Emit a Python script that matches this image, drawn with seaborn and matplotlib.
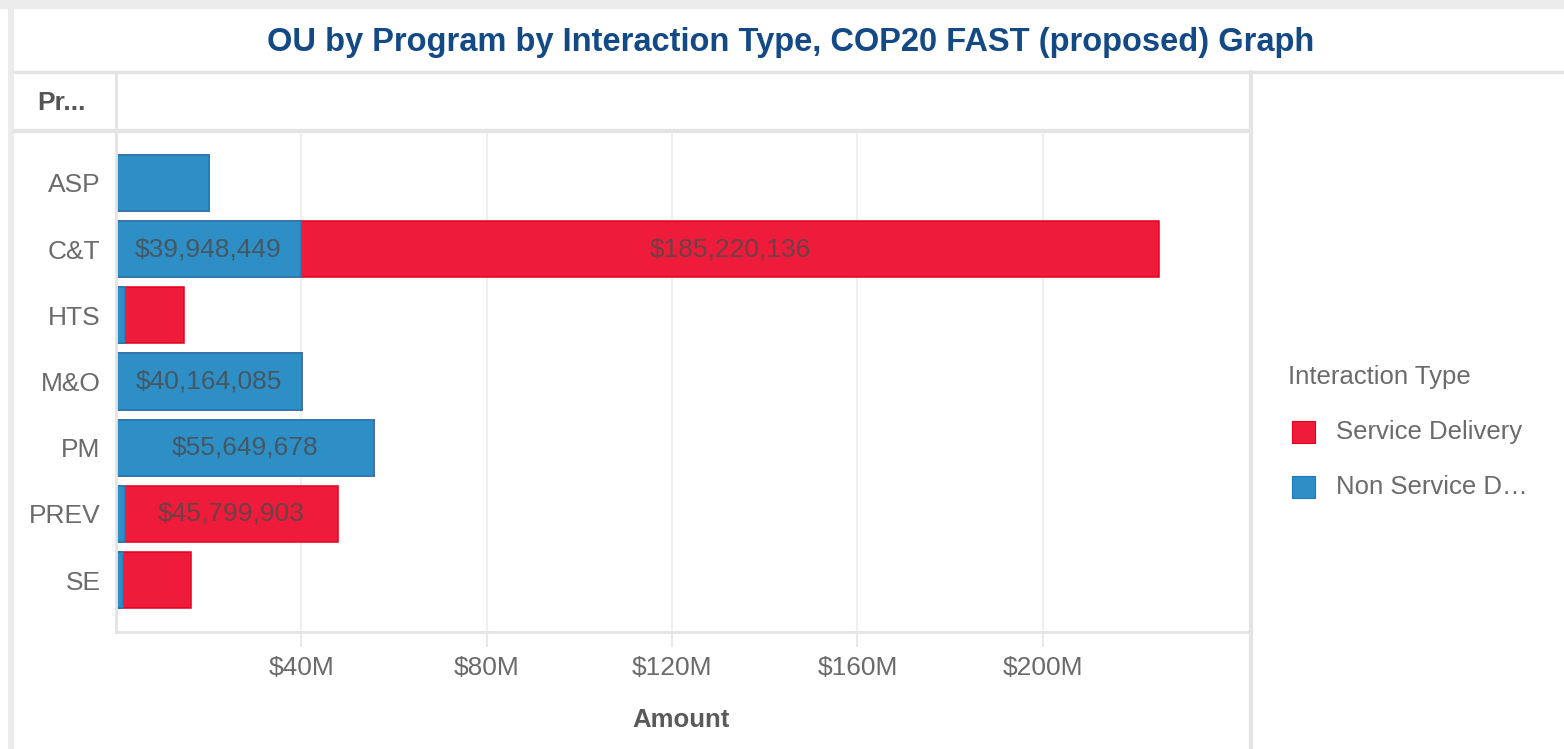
import matplotlib
matplotlib.use("Agg")
import matplotlib.pyplot as plt
from matplotlib.patches import Rectangle
from matplotlib.lines import Line2D
from matplotlib.ticker import FuncFormatter
import seaborn as sns
import pandas as pd

# ---------------- data ----------------
programs = ["ASP", "C&T", "HTS", "M&O", "PM", "PREV", "SE"]
non_service_delivery = [20.1e6, 39948449, 2.0e6, 40164085, 55649678, 2.0e6, 1.5e6]
service_delivery = [0.0, 185220136, 12.6e6, 0.0, 0.0, 45799903, 14.7e6]
x_ticks = [40e6, 80e6, 120e6, 160e6, 200e6]
legend_labels = ["Service Delivery", "Non Service D\u2026"]
title = "OU by Program by Interaction Type, COP20 FAST (proposed) Graph"

df = pd.DataFrame({
    "Program": programs,
    "Non Service Delivery": non_service_delivery,
    "Service Delivery": service_delivery,
})
df["Total"] = df["Non Service Delivery"] + df["Service Delivery"]

# ---------------- style ----------------
sns.set_theme(style="white")
plt.rcParams["font.family"] = ["Liberation Sans", "DejaVu Sans"]

W, H = 1564, 749
DPI = 100
fig = plt.figure(figsize=(W / DPI, H / DPI), dpi=DPI)
fig.patch.set_facecolor("white")

BLUE = "#2e8fc7"
BLUE_EDGE = "#1a7cba"
RED = "#ee1c3a"
RED_EDGE = "#e5001d"
GRID = "#efefef"
LINE = "#e4e4e4"
TXT = "#6b6b6b"

# overlay axes in pixel coordinates for the dashboard frame
ov = fig.add_axes([0, 0, 1, 1], zorder=0)
ov.set_xlim(0, W)
ov.set_ylim(H, 0)
ov.axis("off")

ov.add_patch(Rectangle((0, 0), W, 9, color="#ececec", lw=0))
ov.add_patch(Rectangle((8, 0), 6, H, color="#ececec", lw=0))
ov.add_line(Line2D([14, W], [71.5, 71.5], color=LINE, lw=2.5))
ov.add_line(Line2D([14, 1250], [130.5, 130.5], color=LINE, lw=3))
ov.add_line(Line2D([115.5, 115.5], [72, 133], color=LINE, lw=2))
ov.add_line(Line2D([1251, 1251], [72, H], color=LINE, lw=3))

ov.text(791, 42, title, ha="center", va="center", fontsize=23.5,
        fontweight="bold", color="#134a86")
ov.text(37, 103, "Pr...", ha="left", va="center", fontsize=19,
        fontweight="bold", color="#555555")
ov.text(681, 720, "Amount", ha="center", va="center", fontsize=18.5,
        fontweight="bold", color="#5a5a5a")

# legend (manual)
ov.text(1288, 377, "Interaction Type", ha="left", va="center",
        fontsize=18.5, color=TXT)
leg_colors = [(RED, RED_EDGE), (BLUE, BLUE_EDGE)]
for i, (lab, (fc, ec)) in enumerate(zip(legend_labels, leg_colors)):
    yc = 432 + i * 55
    ov.add_patch(Rectangle((1292, yc - 11), 23, 22, facecolor=fc,
                           edgecolor=ec, lw=0.8))
    ov.text(1336, yc, lab, ha="left", va="center", fontsize=18.5, color=TXT)

# ---------------- main chart ----------------
left, right, top, bottom = 116, 1250, 133, 632
ax = fig.add_axes([left / W, (H - bottom) / H, (right - left) / W,
                   (bottom - top) / H], zorder=1)
ax.set_facecolor("none")

sns.barplot(data=df, x="Total", y="Program", order=programs, orient="h",
            color=RED, saturation=1, width=0.85, ax=ax,
            edgecolor=RED_EDGE, linewidth=1.1)
sns.barplot(data=df, x="Non Service Delivery", y="Program", order=programs,
            orient="h", color=BLUE, saturation=1, width=0.85, ax=ax,
            edgecolor=BLUE_EDGE, linewidth=1.1)

ax.set_xlim(0, 244.7e6)
ax.set_ylim(6.785, -0.755)
ax.set_xticks(x_ticks)
ax.xaxis.set_major_formatter(FuncFormatter(lambda v, p: f"${v/1e6:.0f}M"))
ax.grid(axis="x", color=GRID, lw=1.5)
ax.set_axisbelow(True)
ax.set_xlabel("")
ax.set_ylabel("")

for s in ["top", "right"]:
    ax.spines[s].set_visible(False)
for s in ["left", "bottom"]:
    ax.spines[s].set_color(LINE)
    ax.spines[s].set_linewidth(2)

ax.tick_params(axis="x", length=11, width=1.2, color=LINE, pad=6,
               labelsize=19, labelcolor=TXT, bottom=True)
ax.tick_params(axis="y", length=0, pad=11, labelsize=19, labelcolor=TXT)

# value labels
threshold = 30e6
for i, p in enumerate(programs):
    nsd = non_service_delivery[i]
    sd = service_delivery[i]
    if nsd >= threshold:
        ax.text(nsd / 2, i, f"${nsd:,.0f}", ha="center", va="center",
                fontsize=19, color="#4a4a4a", alpha=0.8)
    if sd >= threshold:
        ax.text(nsd + sd / 2, i, f"${sd:,.0f}", ha="center", va="center",
                fontsize=19, color="#4a4a4a", alpha=0.8)

fig.savefig("out.png", dpi=DPI, facecolor="white")
